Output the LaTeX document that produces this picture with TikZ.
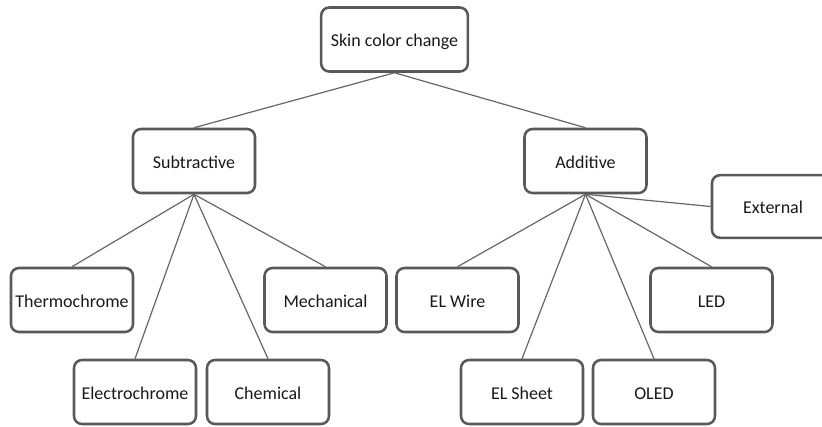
\documentclass[tikz,border=0pt]{standalone}
\usepackage{fontspec}
\setmainfont{Carlito}
\tikzstyle{box}=[draw=black!65,line width=1.9pt,rounded corners=6pt,fill=white,minimum width=91.5pt,minimum height=48pt,inner sep=1pt,text height=1.1em,text depth=0pt,text=black!90,font=\fontsize{13.5}{16}\selectfont]
\tikzstyle{link}=[draw=black!60,line width=0.9pt]

\begin{document}
\begin{tikzpicture}[x=0.75pt,y=-0.75pt]
\useasboundingbox (0,0) rectangle (822,426);
\node[box,minimum width=110pt] at (394.5,39.5) (skin) {Skin color change};
\node[box] at (194,161) (sub) {Subtractive};
\node[box] at (585.5,161) (add) {Additive};
\node[box] at (72,300) (thermo) {Thermochrome};
\node[box] at (135,392) (electro) {Electrochrome};
\node[box] at (268,392) (chem) {Chemical};
\node[box] at (325.5,300) (mech) {Mechanical};
\node[box] at (457.5,300) (elwire) {EL Wire};
\node[box] at (522,392) (elsheet) {EL Sheet};
\node[box] at (654,392) (oled) {OLED};
\node[box] at (711.5,300) (led) {LED};
\node[box,minimum height=47pt] at (773,206.5) (ext) {External};
\draw[link] (skin.south) -- (sub.north);
\draw[link] (skin.south) -- (add.north);
\draw[link] (sub.south) -- (thermo.north);
\draw[link] (sub.south) -- (electro.north);
\draw[link] (sub.south) -- (chem.north);
\draw[link] (sub.south) -- (mech.north);
\draw[link] (add.south) -- (elwire.north);
\draw[link] (add.south) -- (elsheet.north);
\draw[link] (add.south) -- (oled.north);
\draw[link] (add.south) -- (led.north);
\draw[link] (add.south) -- (ext.west);
\end{tikzpicture}
\end{document}
